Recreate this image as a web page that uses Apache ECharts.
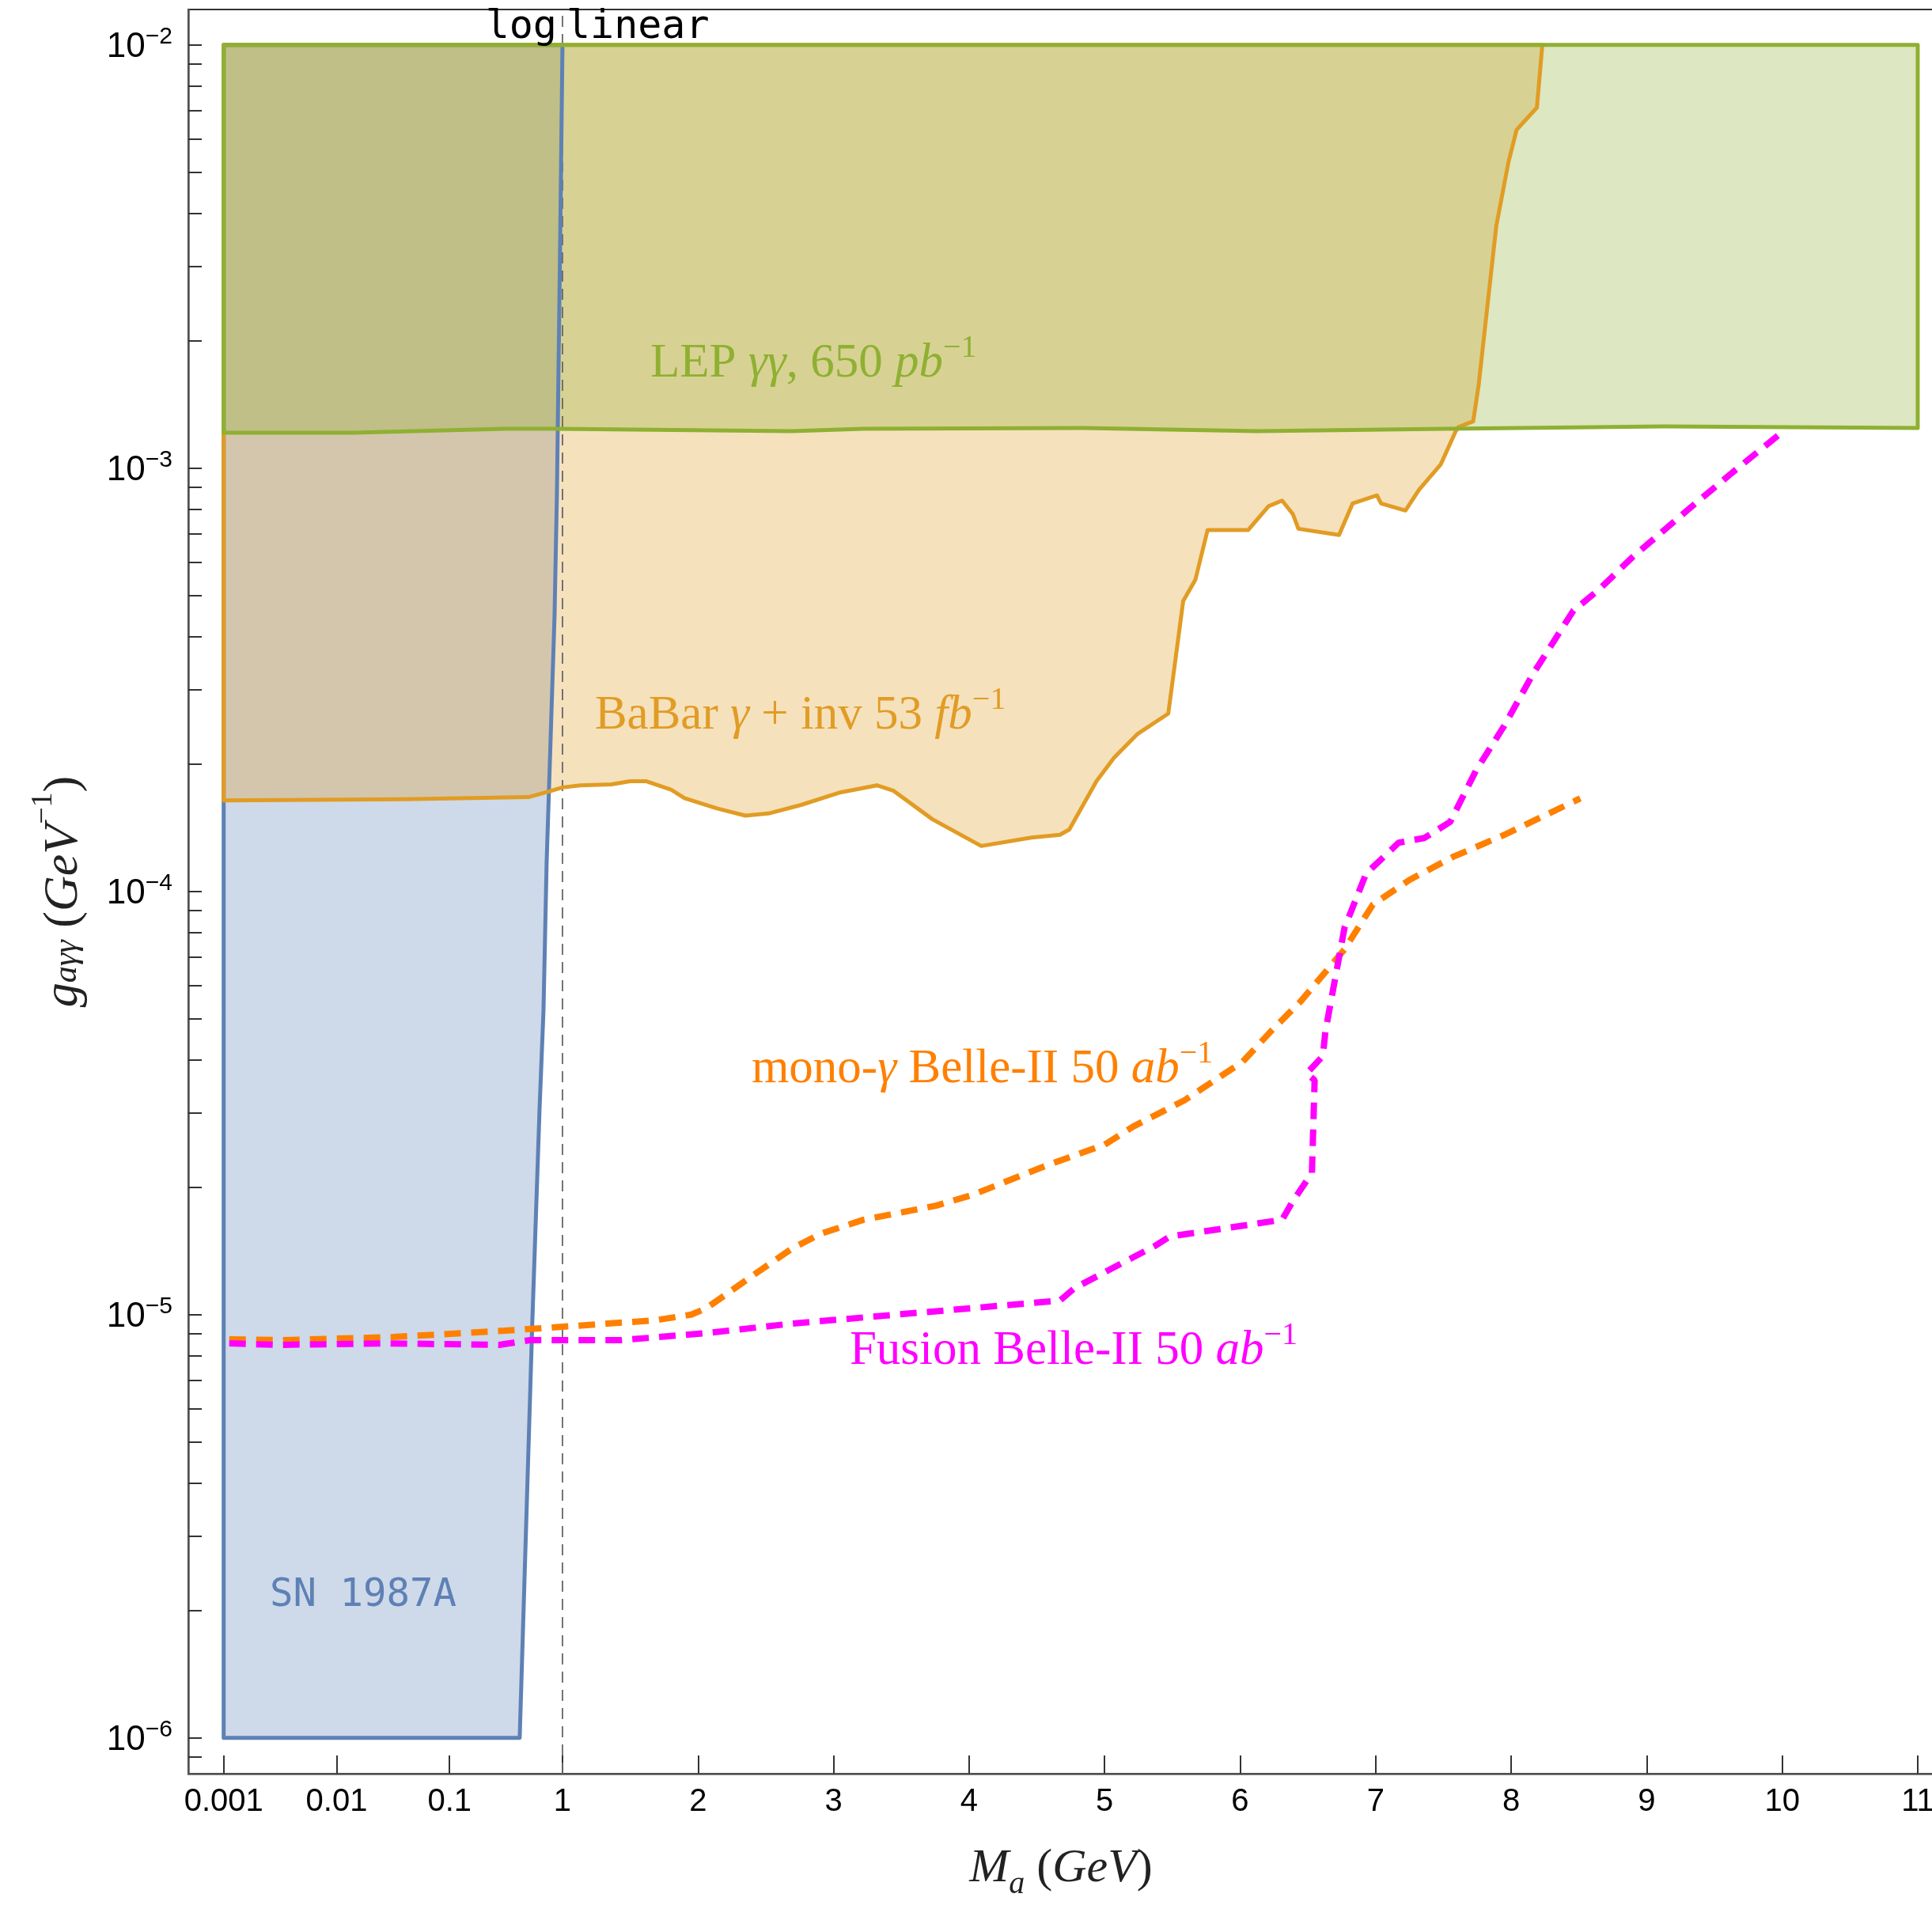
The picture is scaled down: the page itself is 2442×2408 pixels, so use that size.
<!DOCTYPE html>
<html>
<head>
<meta charset="utf-8">
<script src="https://cdn.jsdelivr.net/npm/echarts@6/dist/echarts.min.js"></script>
<style>html,body{margin:0;padding:0;background:#fff}#chart{width:2442px;height:2408px}</style>
</head>
<body>
<div id="chart"></div>
<script>
// ---------- axis transform: log below 1 GeV (5/6 unit per decade), linear above ----------
const DECADE = 5 / 6;
function tx(m) { return m < 1 ? Math.log10(m) * DECADE : m - 1; }
function ty(g) { return Math.log10(g); }

// ---------- tick labels ----------
const xTickValues = [0.001, 0.01, 0.1, 1, 2, 3, 4, 5, 6, 7, 8, 9, 10, 11];
const xTickLabels = ['0.001', '0.01', '0.1', '1', '2', '3', '4', '5', '6', '7', '8', '9', '10', '11'];
const yMajorExponents = [-6, -5, -4, -3, -2];
const yMinorMultipliers = [1, 2, 3, 4, 5, 6, 7, 8, 9];

// ---------- data (M_a in GeV, g_aγγ in GeV^-1) ----------
const snMass     = [0.001, 0.418, 0.542, 0.627, 0.679, 0.724, 0.760, 0.851, 0.893, 0.953, 1.0, 0.001];
const snCoupling = [1e-6, 1e-6, 9.8e-6, 3.07e-5, 5.23e-5, 1.17e-4, 1.75e-4, 4.49e-4, 8.73e-4, 3.35e-3, 1e-2, 1e-2];

const babarMass = [0.001, 0.001, 0.04, 0.5, 0.75, 1.0, 1.13, 1.36, 1.5, 1.62, 1.8, 1.9, 2.14, 2.35, 2.53, 2.76,
  3.04, 3.32, 3.44, 3.73, 4.09, 4.46, 4.67, 4.74, 4.94, 5.07, 5.24, 5.47, 5.58, 5.67, 5.76, 6.06, 6.21, 6.31,
  6.39, 6.43, 6.73, 6.83, 7.01, 7.04, 7.22, 7.32, 7.48, 7.59, 7.61, 7.72, 7.76, 7.83, 7.89, 7.98, 8.04, 8.19, 8.23];
const babarCoupling = [1e-2, 1.64e-4, 1.65e-4, 1.67e-4, 1.72e-4, 1.76e-4, 1.78e-4, 1.79e-4, 1.82e-4, 1.82e-4, 1.74e-4,
  1.66e-4, 1.57e-4, 1.51e-4, 1.53e-4, 1.60e-4, 1.71e-4, 1.78e-4, 1.73e-4, 1.48e-4, 1.28e-4, 1.34e-4, 1.36e-4,
  1.40e-4, 1.82e-4, 2.07e-4, 2.35e-4, 2.63e-4, 4.85e-4, 5.45e-4, 7.14e-4, 7.14e-4, 8.13e-4, 8.38e-4, 7.78e-4,
  7.19e-4, 6.95e-4, 8.25e-4, 8.62e-4, 8.25e-4, 7.94e-4, 8.89e-4, 1.02e-3, 1.22e-3, 1.25e-3, 1.29e-3, 1.57e-3,
  2.50e-3, 3.73e-3, 5.28e-3, 6.30e-3, 7.11e-3, 1e-2];

const lepMass     = [0.001, 11, 11, 9.13, 7.52, 6.13, 4.84, 3.22, 2.69, 0.85, 0.31, 0.014, 0.001];
const lepCoupling = [1e-2, 1e-2, 1.244e-3, 1.255e-3, 1.238e-3, 1.223e-3, 1.244e-3, 1.238e-3, 1.223e-3, 1.238e-3, 1.238e-3, 1.212e-3, 1.212e-3];

const monoMass = [0.00112, 0.0033, 0.0317, 0.308, 0.851, 1.69, 1.95, 2.06, 2.21, 2.40, 2.69, 2.90, 3.22, 3.76,
  4.03, 4.57, 5.00, 5.21, 5.59, 6.02, 6.23, 6.45, 6.77, 6.98, 7.25, 7.57, 7.95, 8.51];
const monoCoupling = [8.74e-6, 8.70e-6, 8.85e-6, 9.16e-6, 9.33e-6, 9.70e-6, 1.0e-5, 1.035e-5, 1.118e-5, 1.234e-5,
  1.43e-5, 1.55e-5, 1.675e-5, 1.81e-5, 1.92e-5, 2.25e-5, 2.52e-5, 2.78e-5, 3.21e-5, 3.96e-5, 4.68e-5, 5.51e-5,
  7.29e-5, 9.31e-5, 1.064e-4, 1.206e-4, 1.36e-4, 1.658e-4];

const fusionMass = [0.00112, 0.003, 0.0287, 0.275, 0.516, 1.43, 2.06, 2.69, 4.67, 4.78, 5.37, 5.48, 6.31, 6.39,
  6.53, 6.55, 6.49, 6.61, 6.63, 6.77, 6.93, 7.17, 7.36, 7.55, 7.74, 7.95, 8.16, 8.46, 8.65, 8.89, 9.30, 9.62, 10.0];
const fusionCoupling = [8.55e-6, 8.48e-6, 8.55e-6, 8.48e-6, 8.70e-6, 8.70e-6, 9.04e-6, 9.52e-6, 1.079e-5, 1.156e-5,
  1.452e-5, 1.529e-5, 1.675e-5, 1.856e-5, 2.16e-5, 3.58e-5, 3.71e-5, 4.08e-5, 4.68e-5, 8.19e-5, 1.102e-4,
  1.303e-4, 1.337e-4, 1.459e-4, 1.928e-4, 2.464e-4, 3.26e-4, 4.61e-4, 5.17e-4, 6.14e-4, 7.95e-4, 9.69e-4, 1.217e-3];

// ---------- styling ----------
const C_BLUE = '#5E81B5', C_ORANGE = '#E19C24', C_GREEN = '#8FB032';
const C_MONO = '#FF8000', C_FUSION = '#FF00FF';
const X_MIN = -2.761, X_MAX = 10.117, Y_MIN = -6.0847, Y_MAX = -1.9164;

function pts(ms, gs) { return ms.map((m, i) => [tx(m), ty(gs[i])]); }
function hexA(hex, a) {
  const r = parseInt(hex.slice(1, 3), 16), g = parseInt(hex.slice(3, 5), 16), b = parseInt(hex.slice(5, 7), 16);
  return `rgba(${r},${g},${b},${a})`;
}
function regionFill(name, ms, gs, color, z) {
  return {
    type: 'custom', name: name + ' fill', coordinateSystem: 'cartesian2d', silent: true, z,
    data: [[0, -4]],
    renderItem: (params, api) => ({
      type: 'polygon',
      shape: { points: pts(ms, gs).map(p => api.coord(p)) },
      style: { fill: hexA(color, 0.3), stroke: null }
    })
  };
}
function regionStroke(name, ms, gs, color, z) {
  return {
    type: 'custom', name: name + ' edge', coordinateSystem: 'cartesian2d', silent: true, z,
    data: [[0, -4]],
    renderItem: (params, api) => ({
      type: 'polygon',
      shape: { points: pts(ms, gs).map(p => api.coord(p)) },
      style: { fill: null, stroke: color, lineWidth: 5, lineJoin: 'round' }
    })
  };
}

function serifRich(color) {
  const base = { fontFamily: 'Liberation Serif', fontSize: 61, fill: color, lineHeight: 70, verticalAlign: 'bottom' };
  return {
    n: base,
    i: Object.assign({}, base, { fontStyle: 'italic' }),
    s: { fontFamily: 'Liberation Serif', fontSize: 40, fill: color, lineHeight: 42, verticalAlign: 'top' }
  };
}

const annotations = [
  { m: 1.648, g: 1.80e-3, dx: 0, text: '{n|LEP }{i|γγ}{n|, 650 }{i|pb}{s|−1}', rich: serifRich(C_GREEN), align: 'left' },
  { m: 1.239, g: 2.65e-4, dx: 0, text: '{n|BaBar }{i|γ}{n| + inv 53 }{i|fb}{s|−1}', rich: serifRich(C_ORANGE), align: 'left' },
  { m: 2.395, g: 3.87e-5, dx: 0, text: '{n|mono-}{i|γ}{n| Belle-II 50 }{i|ab}{s|−1}', rich: serifRich(C_MONO), align: 'left' },
  { m: 3.119, g: 8.34e-6, dx: 0, text: '{n|Fusion Belle-II 50 }{i|ab}{s|−1}', rich: serifRich(C_FUSION), align: 'left' },
  { m: 0.00256, g: 2.16e-6, dx: 0, text: 'SN 1987A', mono: C_BLUE, size: 49, align: 'left' },
  { m: 1, g: 1.10e-2, dx: -7, text: 'log', mono: '#000', size: 50, align: 'right' },
  { m: 1, g: 1.10e-2, dx: 5, text: 'linear', mono: '#000', size: 50, align: 'left' }
];

const annotationSeries = {
  type: 'custom', name: 'annotations', coordinateSystem: 'cartesian2d', silent: true, z: 20,
  data: [[0, -4]],
  renderItem: (params, api) => ({
    type: 'group',
    children: annotations.map(a => {
      const p = api.coord([tx(a.m), ty(a.g)]);
      const style = { x: p[0] + a.dx, y: p[1], text: a.text, align: a.align, verticalAlign: 'middle' };
      if (a.mono) {
        Object.assign(style, { fill: a.mono, fontFamily: 'DejaVu Sans Mono', fontSize: a.size });
      } else {
        style.rich = a.rich;
      }
      return { type: 'text', style };
    })
  })
};

const dividerSeries = {
  type: 'custom', name: 'log/linear divider', coordinateSystem: 'cartesian2d', silent: true, z: 5,
  data: [[0, -4]],
  renderItem: (params, api) => {
    const a = api.coord([tx(1), Y_MIN]), b = api.coord([tx(1), Y_MAX]);
    return { type: 'line', shape: { x1: a[0], y1: a[1], x2: b[0], y2: b[1] },
      style: { stroke: '#666', lineWidth: 1.8, lineDash: [14, 9] } };
  }
};

const yMinorTicks = [];
[-7, -6, -5, -4, -3, -2].forEach(e => yMinorMultipliers.forEach(k => {
  const v = Math.log10(k) + e;
  if (v >= Y_MIN && v <= Y_MAX) yMinorTicks.push(v);
}));

function dashedLine(name, ms, gs, color) {
  return {
    type: 'line', name, data: pts(ms, gs), showSymbol: false, symbol: 'none', z: 12, silent: true,
    lineStyle: { color, width: 8, type: [21, 13], cap: 'butt' }
  };
}

const option = {
  animation: false,
  backgroundColor: '#fff',
  grid: {
    left: 238, right: -2, top: 12, bottom: 166, containLabel: false, outerBoundsMode: 'none',
    show: true, borderColor: '#333', borderWidth: 2, backgroundColor: 'transparent'
  },
  xAxis: {
    type: 'value', min: X_MIN, max: X_MAX,
    axisLine: { show: true, onZero: false, lineStyle: { color: '#555', width: 2.5 } },
    axisTick: { show: true, inside: true, length: 23, customValues: xTickValues.map(tx), lineStyle: { color: '#333', width: 2 } },
    axisLabel: {
      customValues: xTickValues.map(tx), margin: 16, color: '#000', fontFamily: 'Liberation Sans', fontSize: 40,
      hideOverlap: false,
      formatter: v => { const i = xTickValues.findIndex(x => Math.abs(tx(x) - v) < 1e-6); return i >= 0 ? xTickLabels[i] : ''; }
    },
    splitLine: { show: false },
    name: '{i|M}{sub|a}{n| (}{i|GeV}{n|)}', nameLocation: 'middle', nameGap: 90,
    nameTextStyle: {
      rich: {
        n: { fontFamily: 'Liberation Serif', fontSize: 60, color: '#222', lineHeight: 70, verticalAlign: 'top' },
        i: { fontFamily: 'Liberation Serif', fontStyle: 'italic', fontSize: 60, color: '#222', lineHeight: 70, verticalAlign: 'top' },
        sub: { fontFamily: 'Liberation Serif', fontStyle: 'italic', fontSize: 40, color: '#222', lineHeight: 42, padding: [42, 0, 0, 0], verticalAlign: 'bottom' }
      }
    }
  },
  yAxis: {
    type: 'value', min: Y_MIN, max: Y_MAX,
    axisLine: { show: true, onZero: false, lineStyle: { color: '#555', width: 2.5 } },
    axisTick: { show: true, inside: true, length: 17, customValues: yMinorTicks, lineStyle: { color: '#333', width: 2 } },
    axisLabel: {
      customValues: yMajorExponents, margin: 20,
      formatter: v => '{b|10}{s|−' + Math.round(-v) + '}',
      rich: {
        b: { fontFamily: 'Liberation Sans', fontSize: 44, color: '#000', lineHeight: 50, verticalAlign: 'bottom' },
        s: { fontFamily: 'Liberation Sans', fontSize: 30, color: '#000', lineHeight: 32, verticalAlign: 'top' }
      }
    },
    splitLine: { show: false },
    name: '{i|g}{sub|aγγ}{n| (}{i|GeV}{sup|−1}{n|)}', nameLocation: 'middle', nameRotate: 90, nameGap: 132,
    nameTextStyle: {
      rich: {
        n: { fontFamily: 'Liberation Serif', fontSize: 62, color: '#222', lineHeight: 70, verticalAlign: 'top', padding: [14, 0, 0, 0] },
        i: { fontFamily: 'Liberation Serif', fontStyle: 'italic', fontSize: 62, color: '#222', lineHeight: 70, verticalAlign: 'top', padding: [14, 0, 0, 0] },
        sub: { fontFamily: 'Liberation Serif', fontStyle: 'italic', fontSize: 42, color: '#222', lineHeight: 44, padding: [62, 0, 0, 0], verticalAlign: 'bottom' },
        sup: { fontFamily: 'Liberation Serif', fontSize: 38, color: '#222', lineHeight: 38, verticalAlign: 'top' }
      }
    }
  },
  series: [
    regionFill('SN 1987A', snMass, snCoupling, C_BLUE, 1),
    regionFill('BaBar', babarMass, babarCoupling, C_ORANGE, 2),
    regionFill('LEP', lepMass, lepCoupling, C_GREEN, 3),
    dividerSeries,
    regionStroke('SN 1987A', snMass, snCoupling, C_BLUE, 6),
    regionStroke('BaBar', babarMass, babarCoupling, C_ORANGE, 7),
    regionStroke('LEP', lepMass, lepCoupling, C_GREEN, 8),
    dashedLine('mono-γ Belle-II', monoMass, monoCoupling, C_MONO),
    dashedLine('Fusion Belle-II', fusionMass, fusionCoupling, C_FUSION),
    annotationSeries
  ]
};

const chart = echarts.init(document.getElementById('chart'), null, { renderer: 'canvas' });
chart.setOption(option);
</script>
</body>
</html>
